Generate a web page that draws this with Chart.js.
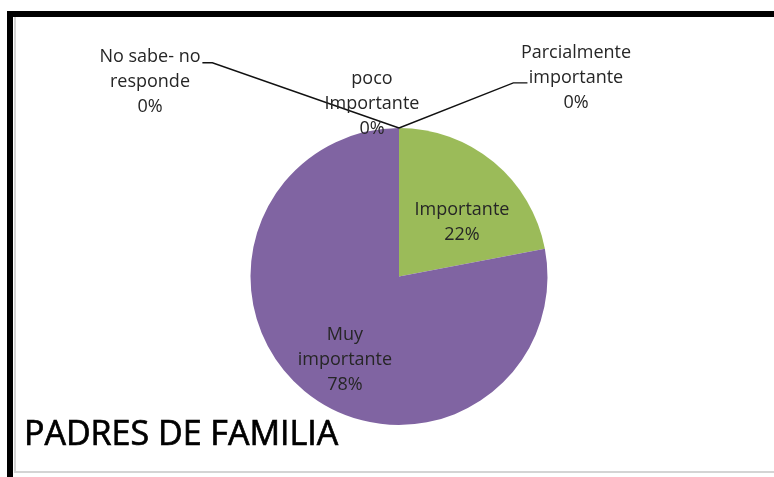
<!DOCTYPE html>
<html>
<head>
<meta charset="utf-8">
<script src="https://cdn.jsdelivr.net/npm/chart.js@4/dist/chart.umd.min.js"></script>
<style>
  html, body { margin: 0; padding: 0; background: #ffffff; }
  #wrap { position: relative; width: 774px; height: 477px; }
  canvas { display: block; }
</style>
</head>
<body>
<div id="wrap"><canvas id="c" width="774" height="477"></canvas></div>
<script>
// ---- data ----
const categories = [
  ["No sabe- no", "responde"],
  ["poco", "Importante"],
  ["Importante"],
  ["Muy", "importante"],
  ["Parcialmente", "importante"]
];
const values = [0, 0, 22, 78, 0];
const sliceColors = ["#4F81BD", "#C0504D", "#9BBB59", "#8064A2", "#4BACC6"];
const chartTitle = "PADRES DE FAMILIA";

// label placement (relative to pie centre, in units of radius)
const labelPlacement = [
  { dx: -1.677, dy: -1.310, leader: [[-1.257, -1.439], [-1.324, -1.439]] },
  { dx: -0.182, dy: -1.162, leader: null },
  { dx: 0.424, dy: -0.364, leader: null },
  { dx: -0.364, dy: 0.562, leader: null },
  { dx: 1.192, dy: -1.337, leader: [[0.770, -1.304], [0.865, -1.304]] }
];

const total = values.reduce((a, b) => a + b, 0);

const framePlugin = {
  id: 'frame',
  beforeDraw(chart) {
    const ctx = chart.ctx;
    ctx.save();
    ctx.fillStyle = '#ffffff';
    ctx.fillRect(0, 0, chart.width, chart.height);
    // light inner border
    ctx.fillStyle = '#d4d4d4';
    ctx.fillRect(14, 17, 2, 456);
    ctx.fillRect(14, 471, chart.width - 14, 2);
    // thick black frame
    ctx.fillStyle = '#000000';
    ctx.fillRect(7, 11, chart.width - 7, 6);
    ctx.fillRect(7, 11, 6, chart.height - 11);
    ctx.restore();
  }
};

const labelPlugin = {
  id: 'pieLabels',
  afterDatasetsDraw(chart) {
    const ctx = chart.ctx;
    const meta = chart.getDatasetMeta(0);
    ctx.save();
    meta.data.forEach((arc, i) => {
      const p = arc.getProps(['x', 'y', 'startAngle', 'endAngle', 'outerRadius'], true);
      const cx = p.x, cy = p.y, r = p.outerRadius;
      const pl = labelPlacement[i];
      if (pl.leader) {
        const ax = cx + Math.cos(p.startAngle) * r;
        const ay = cy + Math.sin(p.startAngle) * r;
        ctx.beginPath();
        ctx.moveTo(ax, ay);
        pl.leader.forEach(pt => ctx.lineTo(cx + pt[0] * r, cy + pt[1] * r));
        ctx.strokeStyle = '#111111';
        ctx.lineWidth = 1.4;
        ctx.stroke();
      }
    });
    meta.data.forEach((arc, i) => {
      const p = arc.getProps(['x', 'y', 'outerRadius'], true);
      const cx = p.x, cy = p.y, r = p.outerRadius;
      const pl = labelPlacement[i];
      const pct = Math.round(values[i] / total * 100) + '%';
      const lines = categories[i].concat([pct]);
      const lh = 25;
      const bx = cx + pl.dx * r;
      const by = cy + pl.dy * r;
      ctx.font = '18px "Open Sans"';
      ctx.fillStyle = '#262626';
      ctx.textAlign = 'center';
      ctx.textBaseline = 'middle';
      lines.forEach((t, k) => {
        ctx.fillText(t, bx, by + (k - (lines.length - 1) / 2) * lh);
      });
    });
    // chart title
    ctx.font = '34px "Open Sans"';
    ctx.fillStyle = '#000000';
    ctx.strokeStyle = '#000000';
    ctx.lineWidth = 0.7;
    ctx.textAlign = 'left';
    ctx.textBaseline = 'alphabetic';
    ctx.fillText(chartTitle, 24, 445);
    ctx.strokeText(chartTitle, 24, 445);
    ctx.restore();
  }
};

new Chart(document.getElementById('c'), {
  type: 'pie',
  data: {
    labels: categories.map(c => c.join(' ')),
    datasets: [{
      data: values,
      backgroundColor: sliceColors,
      borderWidth: 0,
      hoverOffset: 0,
      offset: 0
    }]
  },
  options: {
    responsive: false,
    animation: false,
    events: [],
    layout: { padding: { left: 250, right: 226, top: 128, bottom: 52 } },
    plugins: {
      legend: { display: false },
      title: { display: false },
      tooltip: { enabled: false }
    }
  },
  plugins: [framePlugin, labelPlugin]
});
</script>
</body>
</html>
